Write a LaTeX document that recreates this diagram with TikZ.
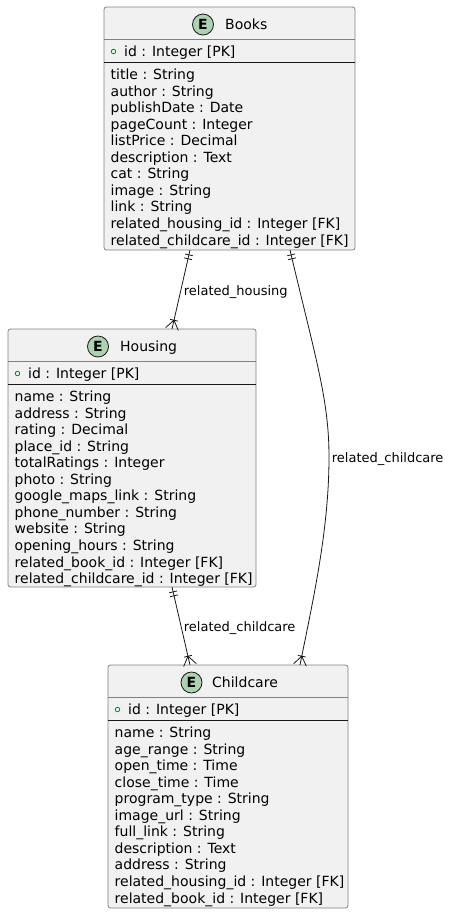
\documentclass[tikz,border=0pt]{standalone}
\usepackage{fontspec}
\setmainfont{DejaVu Sans}
\usetikzlibrary{arrows.meta,positioning,decorations.markings}
\definecolor{boxfill}{RGB}{241,241,241}
\definecolor{boxline}{RGB}{128,128,128}
\definecolor{ecirc}{RGB}{173,209,178}
\definecolor{pkgreen}{RGB}{30,120,55}
\definecolor{ink}{RGB}{24,24,24}

\begin{document}
\begin{tikzpicture}[x=1pt, y=-1pt,
  font=\fontsize{14pt}{16.5pt}\selectfont,
  entity/.style={draw=boxline,fill=boxfill,rounded corners=2.5pt,anchor=north west,inner sep=0pt,outer sep=0pt,line width=0.8pt},
  hsep/.style={draw=boxline,line width=0.8pt},
  ksep/.style={draw=ink,line width=1.2pt},
  ebadge/.style={circle,draw=ink,fill=ecirc,line width=0.8pt,minimum size=21pt,inner sep=0pt,font=\fontsize{14pt}{16pt}\selectfont\bfseries},
  ename/.style={anchor=base west,inner sep=0pt},
  attr/.style={anchor=base west,inner sep=0pt},
  pkdot/.style={circle,draw=pkgreen,line width=0.8pt,minimum size=4.5pt,inner sep=0pt},
  lbl/.style={font=\fontsize{13pt}{15pt}\selectfont,inner sep=2.5pt,yshift=-2.5pt},
  rel/.style={draw=ink,line width=0.8pt},
  one/.style={postaction={decorate,decoration={markings,mark=at position 0 with {
      \draw[ink,line width=0.8pt] (5pt,-4pt) -- (5pt,4pt) (9pt,-4pt) -- (9pt,4pt);}}}},
  many/.style={postaction={decorate,decoration={markings,mark=at position 1 with {
      \draw[ink,line width=0.8pt] (-9pt,-4pt) -- (-9pt,4pt) (0pt,-6.5pt) -- (-9pt,0pt) -- (0pt,6.5pt);}}}},
]
\useasboundingbox (0,0) rectangle (448,914);

% ===== Books =====
\node[entity,minimum width=251pt,minimum height=243pt] (books) at (104,7) {};
\draw[hsep] ([yshift=-32pt]books.north west) -- ([yshift=-32pt]books.north east);
\draw[ksep] ([yshift=-55.5pt]books.north west) -- ([yshift=-55.5pt]books.north east);
\node[ebadge] (books-e) at (203,24.5) {E};
\node[ename] (books-name) at (225,29.5) {Books};
\node[pkdot] (books-pk) at (113.5,51.5) {};
\node[attr] (books-id) at (124,56) {id : Integer [PK]};
\foreach \t [count=\i] in {title : String, author : String, publishDate : Date,
    pageCount : Integer, listPrice : Decimal, description : Text, cat : String,
    image : String, link : String, related\_housing\_id : Integer [FK],
    related\_childcare\_id : Integer [FK]}
  \node[attr] (books-a\i) at (110.5,{62.95+\i*16.55}) {\t};

% ===== Housing =====
\node[entity,minimum width=248pt,minimum height=258pt] (housing) at (8,329) {};
\draw[hsep] ([yshift=-32pt]housing.north west) -- ([yshift=-32pt]housing.north east);
\draw[ksep] ([yshift=-55.5pt]housing.north west) -- ([yshift=-55.5pt]housing.north east);
\node[ebadge] (housing-e) at (98,346.5) {E};
\node[ename] (housing-name) at (120,351.5) {Housing};
\node[pkdot] (housing-pk) at (17.5,373.5) {};
\node[attr] (housing-id) at (28,378) {id : Integer [PK]};
\foreach \t [count=\i] in {name : String, address : String, rating : Decimal,
    place\_id : String, totalRatings : Integer, photo : String,
    google\_maps\_link : String, phone\_number : String, website : String,
    opening\_hours : String, related\_book\_id : Integer [FK],
    related\_childcare\_id : Integer [FK]}
  \node[attr] (housing-a\i) at (14.5,{384.95+\i*16.55}) {\t};

% ===== Childcare =====
\node[entity,minimum width=240pt,minimum height=243pt] (childcare) at (108,665) {};
\draw[hsep] ([yshift=-32pt]childcare.north west) -- ([yshift=-32pt]childcare.north east);
\draw[ksep] ([yshift=-55.5pt]childcare.north west) -- ([yshift=-55.5pt]childcare.north east);
\node[ebadge] (childcare-e) at (191.5,682.5) {E};
\node[ename] (childcare-name) at (212,687.5) {Childcare};
\node[pkdot] (childcare-pk) at (117.5,709.5) {};
\node[attr] (childcare-id) at (128,714) {id : Integer [PK]};
\foreach \t [count=\i] in {name : String, age\_range : String, open\_time : Time,
    close\_time : Time, program\_type : String, image\_url : String,
    full\_link : String, description : Text, address : String,
    related\_housing\_id : Integer [FK], related\_book\_id : Integer [FK]}
  \node[attr] (childcare-a\i) at (114.5,{720.95+\i*16.55}) {\t};

% ===== relations =====
\draw[rel,one,many] ([xshift=-39.5pt]books.south) -- node[lbl,right] (lbl-housing) {related\_housing} ([xshift=40pt]housing.north);
\draw[rel,one,many] ([xshift=60.5pt]books.south) .. controls (316,360) and (329,400) .. (329,457)
  node[lbl,right] (lbl-childcare1) {related\_childcare}
  .. controls (329,530) and (313,600) .. ([xshift=72pt]childcare.north);
\draw[rel,one,many] ([xshift=40pt]housing.south) -- node[lbl,right] (lbl-childcare2) {related\_childcare} ([xshift=-38pt]childcare.north);
\end{tikzpicture}
\end{document}
